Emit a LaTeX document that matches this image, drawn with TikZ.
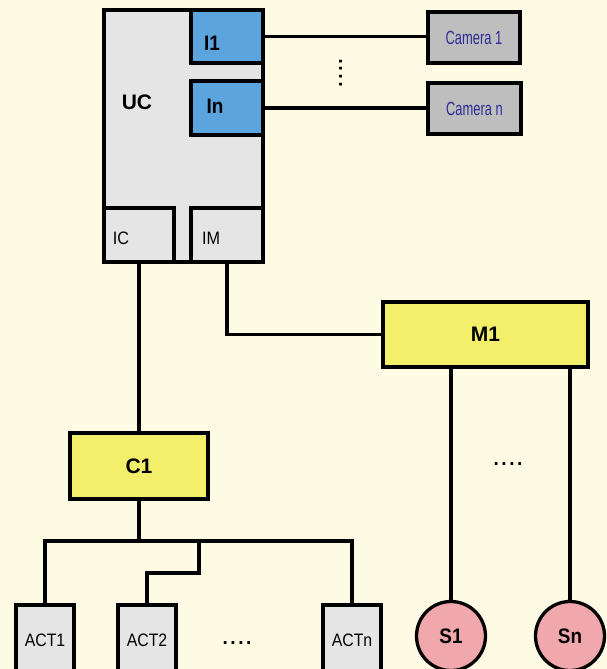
\documentclass[tikz,border=0pt]{standalone}
\usepackage{graphicx}
\usepackage{fontspec}
\setmainfont{Liberation Sans}
\usepackage{tikz}
\usepackage{xcolor}

\definecolor{bgcream}{RGB}{253,251,227}
\definecolor{boxgrey}{RGB}{229,229,229}
\definecolor{portblue}{RGB}{92,164,221}
\definecolor{camgrey}{RGB}{190,190,190}
\definecolor{camtext}{RGB}{44,44,150}
\definecolor{ctlyellow}{RGB}{243,239,107}
\definecolor{senspink}{RGB}{241,168,173}

\newcommand{\narrow}[2]{\scalebox{#1}[1]{#2}}

\begin{document}
\begin{tikzpicture}[x=1pt,y=-1pt,
  blk/.style={draw=black,line width=3.3pt,inner sep=0pt},
  greybox/.style={blk,fill=boxgrey},
  portbox/.style={blk,fill=portblue},
  cambox/.style={blk,fill=camgrey,text=camtext,font=\fontsize{19}{22}\selectfont},
  ctlbox/.style={blk,fill=ctlyellow,font=\fontsize{21}{24}\selectfont\bfseries},
  actbox/.style={greybox,minimum width=58,minimum height=70,font=\fontsize{18}{21}\selectfont},
  sensor/.style={blk,circle,fill=senspink,minimum size=69,font=\fontsize{21}{24}\selectfont\bfseries},
  boldtxt/.style={inner sep=0pt,font=\fontsize{21}{24}\selectfont\bfseries},
  plaintxt/.style={inner sep=0pt,font=\fontsize{18}{21}\selectfont},
  dots/.style={inner sep=0pt,font=\fontsize{28}{30}\selectfont},
  wire/.style={line width=3.3pt}]
\path[use as bounding box,fill=bgcream] (0,0) rectangle (607,669);
\clip (0,0) rectangle (607,669);

% control unit with its ports
\node[greybox,minimum width=159,minimum height=252] (uc) at (183.5,136) {};
\node[boldtxt] (uclbl) at (137,102) {UC};
\node[portbox,minimum width=72,minimum height=53] (i1) at (227,36.5) {};
\node[boldtxt] (i1lbl) at (212,43) {\narrow{0.9}{I1}};
\node[portbox,minimum width=72,minimum height=54] (in) at (227,108) {};
\node[boldtxt] (inlbl) at (215,106) {\narrow{0.9}{In}};
\node[greybox,minimum width=70,minimum height=54] (ic) at (139,235) {};
\node[plaintxt] (iclbl) at (121,238) {\narrow{0.9}{IC}};
\node[greybox,minimum width=72,minimum height=54] (im) at (227,235) {};
\node[plaintxt] (imlbl) at (211,238) {\narrow{0.9}{IM}};

% cameras
\node[cambox,minimum width=92,minimum height=51] (cam1) at (474,37.5) {\narrow{0.68}{Camera 1}};
\node[cambox,minimum width=93,minimum height=51] (camn) at (474.5,108.5) {\narrow{0.68}{Camera n}};
\node[dots,rotate=90] (camdots) at (341,73) {....};

% modules
\node[ctlbox,minimum width=205,minimum height=65] (m1) at (485.5,334.5) {M1};
\node[ctlbox,minimum width=138,minimum height=66] (c1) at (139,466) {C1};

% actuators and sensors
\node[actbox] (act1) at (45,640) {\narrow{0.88}{ACT1}};
\node[actbox] (act2) at (147,640) {\narrow{0.88}{ACT2}};
\node[dots] (actdots) at (237,643) {....};
\node[actbox] (actn) at (352,640) {\narrow{0.88}{ACTn}};
\node[sensor] (s1) at (451,636) {\narrow{0.9}{S1}};
\node[sensor] (sn) at (570,636) {\narrow{0.9}{Sn}};
\node[dots] (sensdots) at (508,464) {....};

\coordinate (bus) at (139,541);
\coordinate (j2) at (199,573);

% connections
\draw[wire] (i1.east) -- (i1.east -| cam1.west);
\draw[wire] (in.east) -- (in.east -| camn.west);
\draw[wire] (ic.south) -- (c1.north);
\draw[wire] (im.south) |- (m1.west);
\draw[wire] (s1.north |- m1.south) -- (s1.north);
\draw[wire] (sn.north |- m1.south) -- (sn.north);
\draw[wire] (c1.south) -- (bus);
\draw[wire] (act1.north) |- (bus) -| (actn.north);
\draw[wire] (act2.north) |- (j2) -- (j2 |- bus);
\end{tikzpicture}
\end{document}
